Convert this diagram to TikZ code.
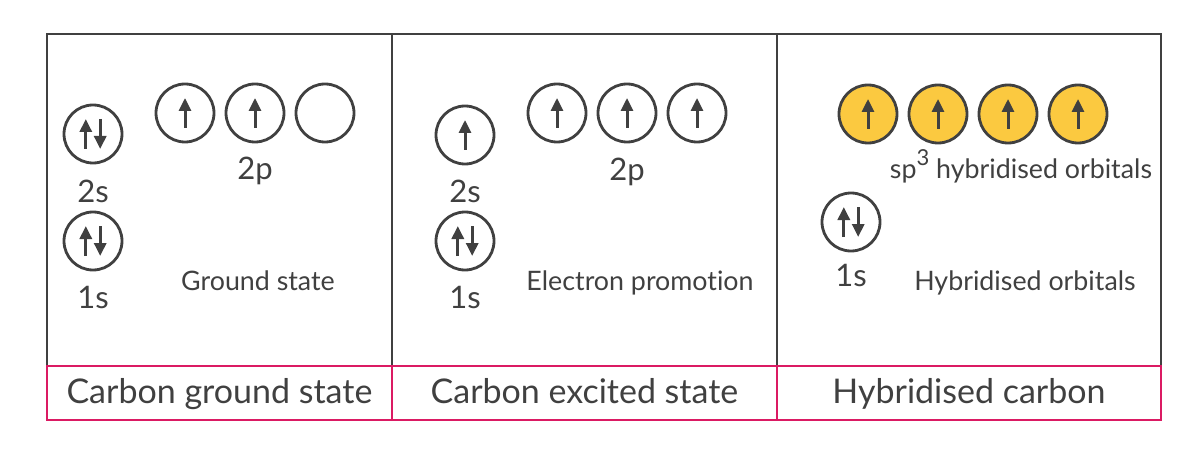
\documentclass[tikz,border=0pt]{standalone}
\usepackage{fontspec}
\setmainfont{Lato}[Ligatures=NoCommon]
\usetikzlibrary{arrows.meta,positioning}
\definecolor{ink}{HTML}{404040}
\definecolor{rim}{HTML}{DB1A63}
\definecolor{gold}{HTML}{FBC940}
\tikzset{
  orb/.style={circle,draw=ink,line width=1.4pt,minimum size=29pt,inner sep=0pt},
  hyb/.style={orb,fill=gold},
  spin/.style={draw=ink,line width=1.5pt,-{Triangle[length=6.5pt,width=6pt]}},
  lvl/.style={text=ink,anchor=base,font=\fontsize{15.5}{18}\selectfont},
  note/.style={text=ink,anchor=base,font=\fontsize{13.4}{16}\selectfont},
  title/.style={text=ink,anchor=base,font=\fontsize{17}{20}\selectfont}
}
\newcommand\spinup[1]{\draw[spin] ([yshift=-7.5pt]#1.center) -- ([yshift=7.5pt]#1.center);}
\newcommand\spinpair[1]{%
  \draw[spin] ([xshift=-3.6pt,yshift=-7.5pt]#1.center) -- ([xshift=-3.6pt,yshift=7.5pt]#1.center);
  \draw[spin] ([xshift=3.6pt,yshift=7.5pt]#1.center) -- ([xshift=3.6pt,yshift=-7.5pt]#1.center);}
\begin{document}
\begin{tikzpicture}[x=0.5pt,y=-0.5pt,node distance=4.6pt]
    \useasboundingbox (0,0) rectangle (1200,476);
    % frames
    \draw [ink,line width=1.3pt] (47,366) -- (47,34) -- (1161,34) -- (1161,366);
    \draw [ink,line width=1.3pt] (392,34) -- (392,366);
    \draw [ink,line width=1.3pt] (777,34) -- (777,366);
    \draw [rim,line width=1.3pt] (47,366) rectangle (1161,420);
    \draw [rim,line width=1.3pt] (392,366) -- (392,420);
    \draw [rim,line width=1.3pt] (777,366) -- (777,420);
    \node [title] (ttlA) at (219.5,403) {Carbon ground state};
    \node [title] (ttlB) at (584.5,403) {Carbon excited state};
    \node [title] (ttlC) at (969,403) {Hybridised carbon};

    % ground state
    \node [orb] (gs2) at (93,134) {};
    \node [orb] (gs1) at (93,241) {};
    \node [lvl] (gs2l) at (93,202) {2s};
    \node [lvl] (gs1l) at (93,308) {1s};
    \node [orb] (gpa) at (185,113) {};
    \node [orb,right=of gpa] (gpb) {};
    \node [orb,right=of gpb] (gpc) {};
    \node [lvl] (gpl) at (255,179) {2p};
    \node [note] (gnote) at (258,290) {Ground state};
    \spinpair{gs2}
    \spinpair{gs1}
    \spinup{gpa}
    \spinup{gpb}

    % excited state
    \node [orb] (es2) at (465,135) {};
    \node [orb] (es1) at (465,241) {};
    \node [lvl] (es2l) at (465,202) {2s};
    \node [lvl] (es1l) at (465,308) {1s};
    \node [orb] (epa) at (557,113) {};
    \node [orb,right=of epa] (epb) {};
    \node [orb,right=of epb] (epc) {};
    \node [lvl] (epl) at (627,181) {2p};
    \node [note] (enote) at (640,290) {Electron promotion};
    \spinup{es2}
    \spinpair{es1}
    \spinup{epa}
    \spinup{epb}
    \spinup{epc}

    % hybridised
    \node [hyb] (hya) at (868,114) {};
    \node [hyb,right=of hya] (hyb) {};
    \node [hyb,right=of hyb] (hyc) {};
    \node [hyb,right=of hyc] (hyd) {};
    \node [note] (hyl) at (1021,178) {sp\raisebox{0.45em}{\fontsize{11}{12}\selectfont 3} hybridised orbitals};
    \node [orb] (hs1) at (851,222) {};
    \node [lvl] (hs1l) at (851,286) {1s};
    \node [note] (hnote) at (1025,290) {Hybridised orbitals};
    \spinup{hya}
    \spinup{hyb}
    \spinup{hyc}
    \spinup{hyd}
    \spinpair{hs1}
\end{tikzpicture}
\end{document}
